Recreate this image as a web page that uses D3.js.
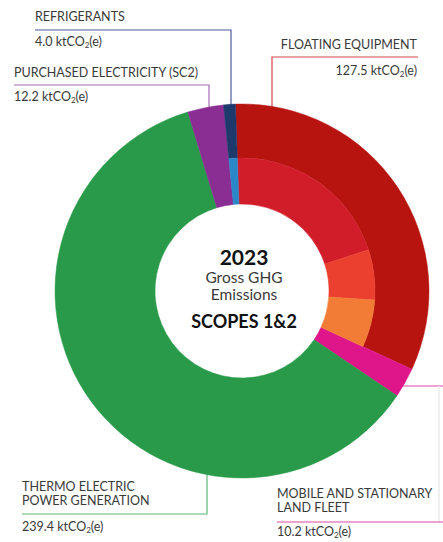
<!DOCTYPE html>
<html>
<head>
<meta charset="utf-8">
<script src="https://cdn.jsdelivr.net/npm/d3@7"></script>
<style>
  body { margin: 0; background: #fff; }
  svg { display: block; }
  text { font-family: Lato, "Open Sans", sans-serif; fill: #3a3a3a; }
</style>
</head>
<body>
<div id="chart"></div>
<script>
// data
const categories = ["Floating equipment", "Mobile and stationary land fleet", "Thermo electric power generation", "Purchased electricity (SC2)", "Refrigerants"];
const values = [127.5, 10.2, 239.4, 12.2, 4.0];
const colors = ["#b7140f", "#de168a", "#289a49", "#8b2e94", "#1e3a6d"];

// inner ring: floating equipment split in three, refrigerants lighter
const innerValues = [80.8, 24.0, 22.7, 10.2, 239.4, 12.2, 4.0];
const innerColors = ["#d11d2a", "#eb4030", "#f27c35", null, null, null, "#2a88c9"];

const labelNames = [
    ["FLOATING EQUIPMENT"],
    ["MOBILE AND STATIONARY", "LAND FLEET"],
    ["THERMO ELECTRIC", "POWER GENERATION"],
    ["PURCHASED ELECTRICITY (SC2)"],
    ["REFRIGERANTS"]
];
const centerLines = ["2023", "Gross GHG", "Emissions", "SCOPES 1&2"];

// dimensions
var width = 443, height = 542;
var cx = 242, cy = 291;
var rOuter = 187, rMid = 133, rInner = 87;
var offset = -0.035;

let svg = d3.select("#chart")
    .append("svg")
    .attr("width", width)
    .attr("height", height);

// leader lines (drawn first, under the donut)
var lines = svg.append("g").attr("fill", "none").attr("stroke-width", 1.2);
lines.append("path").attr("d", "M35,30H231V110").attr("stroke", "#4c5a9c");
lines.append("path").attr("d", "M14,85H209V110").attr("stroke", "#a46cb3");
lines.append("path").attr("d", "M418,57H272V110").attr("stroke", "#d8474a");
lines.append("path").attr("d", "M22,514H207V470").attr("stroke", "#5bb877");
lines.append("path").attr("d", "M390,386H443").attr("stroke", "#e04ba0");
lines.append("path").attr("d", "M439,386V522").attr("stroke", "#e6e6e6");
lines.append("path").attr("d", "M277,522H443").attr("stroke", "#e04ba0");

var g = svg.append("g").attr("transform", "translate(" + cx + "," + cy + ")");

// outer pie
var pie = d3.pie().sort(null).value(d => d)
    .startAngle(offset).endAngle(2 * Math.PI + offset);
var arcs = pie(values);

var split = [true, false, false, false, true];
g.selectAll(".outer")
    .data(arcs)
    .enter()
    .append("path")
    .attr("class", "outer")
    .attr("d", (d, i) => d3.arc().innerRadius(split[i] ? rMid : rInner).outerRadius(rOuter)(d))
    .attr("fill", (d, i) => colors[i])
    .attr("stroke", (d, i) => colors[i])
    .attr("stroke-width", 0.5);

// inner ring
var innerArc = d3.arc().innerRadius(rInner).outerRadius(rMid);
g.selectAll(".inner")
    .data(pie(innerValues).filter((d, i) => innerColors[i]))
    .enter()
    .append("path")
    .attr("class", "inner")
    .attr("d", innerArc)
    .attr("fill", d => innerColors[d.index])
    .attr("stroke", d => innerColors[d.index])
    .attr("stroke-width", 0.5);

// value text with subscript
function valueText(sel, v) {
    sel.append("tspan").text(v.toFixed(1) + " ktCO");
    sel.append("tspan").text("2").attr("font-size", "8px").attr("dy", 2);
    sel.append("tspan").text("(e)").attr("dy", -2);
}

var fs = 12.5;

// refrigerants
svg.append("text").attr("x", 35).attr("y", 21).attr("font-size", fs).text(labelNames[4][0]);
svg.append("text").attr("x", 35).attr("y", 46).attr("font-size", fs).call(valueText, values[4]);

// purchased electricity
svg.append("text").attr("x", 14).attr("y", 77).attr("font-size", fs).text(labelNames[3][0]);
svg.append("text").attr("x", 14).attr("y", 101).attr("font-size", fs).call(valueText, values[3]);

// floating equipment
svg.append("text").attr("x", 417).attr("y", 49).attr("font-size", fs)
    .attr("text-anchor", "end").text(labelNames[0][0]);
svg.append("text").attr("x", 417).attr("y", 75).attr("font-size", fs)
    .attr("text-anchor", "end").call(valueText, values[0]);

// thermo electric
labelNames[2].forEach((t, i) => {
    svg.append("text").attr("x", 22).attr("y", 491 + i * 14).attr("font-size", fs).text(t);
});
svg.append("text").attr("x", 22).attr("y", 531).attr("font-size", fs).call(valueText, values[2]);

// mobile and stationary
labelNames[1].forEach((t, i) => {
    svg.append("text").attr("x", 277).attr("y", 498 + i * 14).attr("font-size", fs).text(t);
});
svg.append("text").attr("x", 277).attr("y", 536).attr("font-size", fs).call(valueText, values[1]);

// center title
var center = svg.append("g").attr("text-anchor", "middle");
center.append("text").attr("x", 244).attr("y", 265).attr("font-size", 21)
    .attr("font-weight", "bold").style("fill", "#111").text(centerLines[0]);
center.append("text").attr("x", 244).attr("y", 283).attr("font-size", 15.5).text(centerLines[1]);
center.append("text").attr("x", 244).attr("y", 300).attr("font-size", 15.5).text(centerLines[2]);
center.append("text").attr("x", 244).attr("y", 328).attr("font-size", 18)
    .attr("font-weight", "bold").style("fill", "#111").text(centerLines[3]);
</script>
</body>
</html>
